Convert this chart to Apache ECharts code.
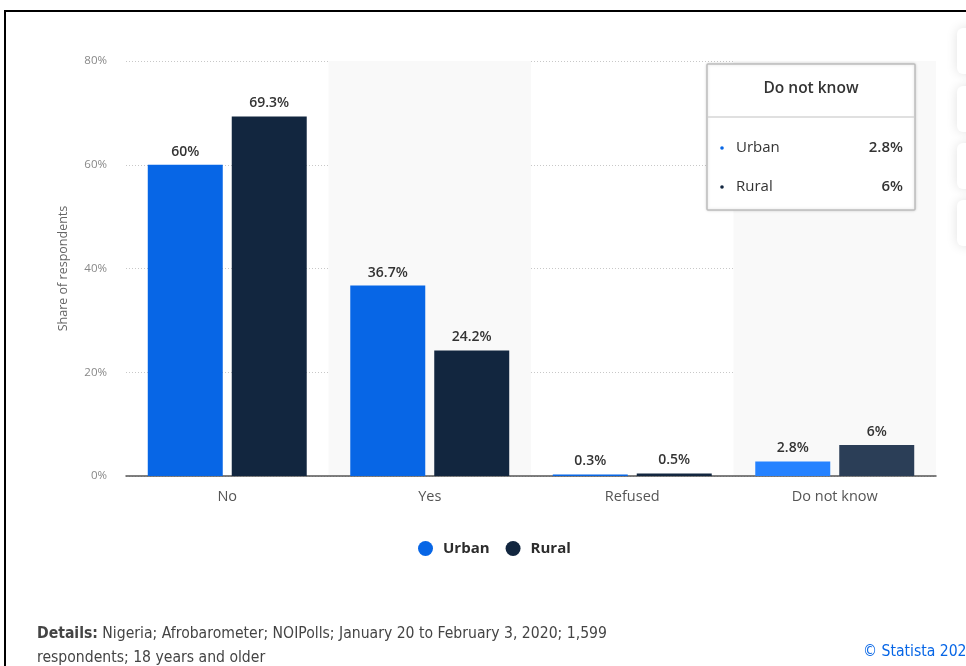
<!DOCTYPE html>
<html>
<head>
<meta charset="utf-8">
<script src="https://cdn.jsdelivr.net/npm/echarts@6/dist/echarts.min.js"></script>
<style>
html,body{margin:0;padding:0;background:#fff;}
#chart{width:966px;height:666px;}
</style>
</head>
<body>
<div id="chart"></div>
<script>
const categories = ['No', 'Yes', 'Refused', 'Do not know'];
const urban = [60, 36.7, 0.3, 2.8];
const rural = [69.3, 24.2, 0.5, 6];
const seriesNames = ['Urban', 'Rural'];
const yTicks = [0, 20, 40, 60, 80];
const hoverIndex = 3;

const FONT = '"Open Sans", "DejaVu Sans", sans-serif';
const FOOT = '"DejaVu Sans Condensed", "Open Sans", sans-serif';
const cUrban = '#0766e6', cUrbanHi = '#2582ff';
const cRural = '#12263f', cRuralHi = '#2b3e57';

const chart = echarts.init(document.getElementById('chart'));

function mk(vals, base, hi) {
  return vals.map((v, i) => i === hoverIndex ? { value: v, itemStyle: { color: hi } } : v);
}
function fmt(v) { return v + '%'; }

const tipX = 707, tipY = 64, tipW = 208, tipH = 146;

chart.setOption({
  animation: false,
  textStyle: { fontFamily: FONT },
  grid: { left: 126, right: 30, top: 61, bottom: 190 },
  legend: {
    data: seriesNames,
    bottom: 105,
    left: 413,
    icon: 'circle',
    itemWidth: 15, itemHeight: 15, itemGap: 16,
    textStyle: { fontSize: 15, fontWeight: 'bold', color: '#2c2c2c', fontFamily: FONT, padding: [0, 0, 0, 5] }
  },
  xAxis: {
    type: 'category',
    data: categories,
    axisLine: { lineStyle: { color: '#555', width: 1.5 } },
    axisTick: { show: false },
    axisLabel: { color: '#555', fontSize: 14.5, margin: 13, fontFamily: FONT },
    splitArea: { show: true, areaStyle: { color: ['rgba(255,255,255,0)', '#f9f9f9'] } }
  },
  yAxis: {
    type: 'value',
    min: yTicks[0], max: yTicks[yTicks.length - 1], interval: 20,
    name: 'Share of respondents',
    nameLocation: 'middle',
    nameGap: 56,
    nameTextStyle: { color: '#666', fontSize: 12.5, fontFamily: FONT },
    axisLine: { show: false },
    axisTick: { show: false },
    axisLabel: { color: '#888', fontSize: 11.5, margin: 19, formatter: '{value}%', fontFamily: FONT },
    splitLine: { lineStyle: { color: '#c8c8c8', type: [1, 2], width: 1 } }
  },
  series: [
    {
      name: seriesNames[0], type: 'bar', data: mk(urban, cUrban, cUrbanHi),
      itemStyle: { color: cUrban },
      barGap: '12%', barCategoryGap: '21.5%',
      label: { show: true, position: 'top', distance: 6, formatter: p => fmt(p.value), color: '#333', fontSize: 14, fontWeight: 600, fontFamily: FONT }
    },
    {
      name: seriesNames[1], type: 'bar', data: mk(rural, cRural, cRuralHi),
      itemStyle: { color: cRural },
      barGap: '12%', barCategoryGap: '21.5%',
      label: { show: true, position: 'top', distance: 6, formatter: p => fmt(p.value), color: '#333', fontSize: 14, fontWeight: 600, fontFamily: FONT }
    }
  ],
  graphic: [
    { type: 'rect', shape: { x: 5, y: 11, width: 1100, height: 1100 }, style: { fill: 'none', stroke: '#000', lineWidth: 2 }, z: 100 },
    ...[28, 86, 143, 200].map(y => ({
      type: 'rect', shape: { x: 957, y: y, width: 40, height: 46, r: 6 },
      style: { fill: '#fff', shadowBlur: 12, shadowColor: 'rgba(0,0,0,0.12)' }, z: 50
    })),
    { type: 'rect', shape: { x: tipX, y: tipY, width: tipW, height: tipH, r: 1 },
      style: { fill: '#fff', stroke: '#bdbdbd', lineWidth: 1.5, shadowBlur: 3, shadowColor: 'rgba(0,0,0,0.15)' }, z: 60 },
    { type: 'text', x: tipX + tipW / 2, y: tipY + 25, z: 61,
      style: { text: categories[hoverIndex], font: '600 15.5px ' + FONT, fill: '#333', align: 'center', verticalAlign: 'middle' } },
    { type: 'line', shape: { x1: tipX + 1, y1: tipY + 53, x2: tipX + tipW - 1, y2: tipY + 53 }, style: { stroke: '#d6d6d6', lineWidth: 1.5 }, z: 61 },
    { type: 'circle', shape: { cx: tipX + 15, cy: tipY + 84, r: 1.8 }, style: { fill: cUrban }, z: 61 },
    { type: 'text', x: tipX + 29, y: tipY + 84, z: 61,
      style: { text: seriesNames[0], font: '15px ' + FONT, fill: '#333', verticalAlign: 'middle' } },
    { type: 'text', x: tipX + tipW - 12, y: tipY + 84, z: 61,
      style: { text: fmt(urban[hoverIndex]), font: '600 15px ' + FONT, fill: '#333', align: 'right', verticalAlign: 'middle' } },
    { type: 'circle', shape: { cx: tipX + 15, cy: tipY + 123, r: 1.8 }, style: { fill: cRural }, z: 61 },
    { type: 'text', x: tipX + 29, y: tipY + 123, z: 61,
      style: { text: seriesNames[1], font: '15px ' + FONT, fill: '#333', verticalAlign: 'middle' } },
    { type: 'text', x: tipX + tipW - 12, y: tipY + 123, z: 61,
      style: { text: fmt(rural[hoverIndex]), font: '600 15px ' + FONT, fill: '#333', align: 'right', verticalAlign: 'middle' } },
    { type: 'text', x: 37, y: 634, z: 61,
      style: { text: '{b|Details:} Nigeria; Afrobarometer; NOIPolls; January 20 to February 3, 2020; 1,599',
        font: '15.6px ' + FOOT, fill: '#444', verticalAlign: 'middle',
        rich: { b: { fontWeight: 'bold', fontSize: 15.6, fontFamily: FOOT, fill: '#444' } } } },
    { type: 'text', x: 37, y: 658, z: 61,
      style: { text: 'respondents; 18 years and older', font: '15.6px ' + FOOT, fill: '#444', verticalAlign: 'middle' } },
    { type: 'text', x: 863, y: 652, z: 61,
      style: { text: '© Statista 2023', font: '15.6px ' + FOOT, fill: '#0766e6', verticalAlign: 'middle' } }
  ]
});
</script>
</body>
</html>
